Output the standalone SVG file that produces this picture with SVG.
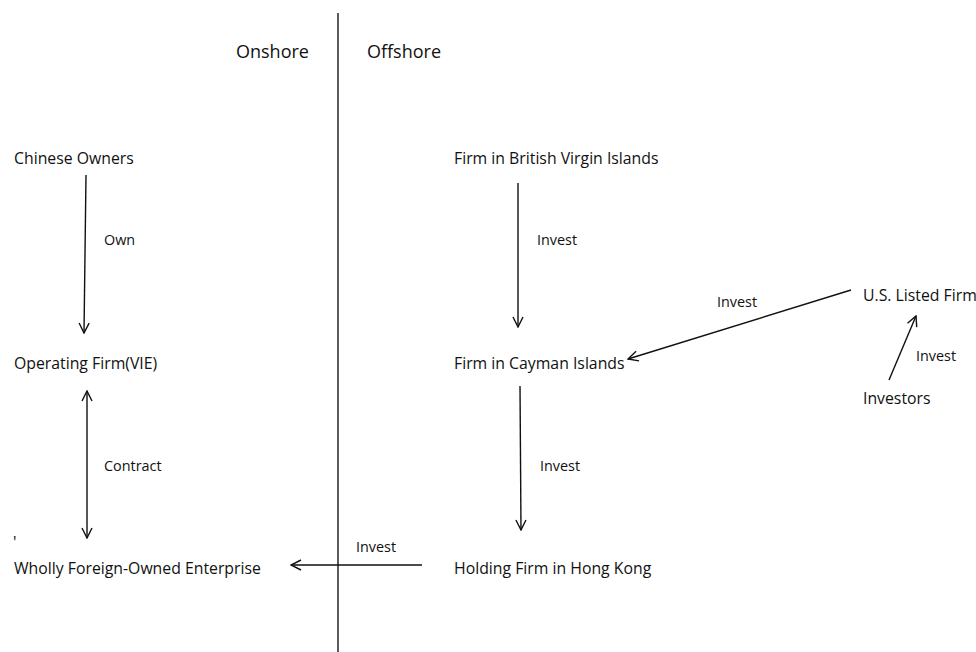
<svg xmlns="http://www.w3.org/2000/svg" width="976" height="652" viewBox="0 0 976 652">
<defs>
<style>
text{font-family:"Open Sans","Liberation Sans",sans-serif;font-size:15.8px;fill:#111;}
.h{font-size:18px;}
.lbl{font-size:14.4px;}
.c{stroke:#111;stroke-width:1.4;fill:none;}
</style>
<marker id="ah" viewBox="0 0 12 12" refX="11" refY="6" markerWidth="12" markerHeight="12" markerUnits="userSpaceOnUse" orient="auto-start-reverse">
<path d="M1,1 L11,6 L1,11" fill="none" stroke="#111" stroke-width="1.4"/>
</marker>
</defs>
<rect width="976" height="652" fill="#fff"/>
<g id="divider">
<line x1="338" y1="13" x2="338" y2="652" stroke="#333" stroke-width="1.6"/>
<text class="h" x="236" y="58">Onshore</text>
<text class="h" x="367" y="58">Offshore</text>
</g>
<g id="chinese-owners"><text x="14" y="164">Chinese Owners</text></g>
<g id="operating-firm"><text x="14" y="369">Operating Firm(VIE)</text></g>
<g id="wfoe"><text x="14" y="574">Wholly Foreign-Owned Enterprise</text><text x="13" y="548" font-size="12">'</text></g>
<g id="bvi"><text x="454" y="164">Firm in British Virgin Islands</text></g>
<g id="cayman"><text x="454" y="369">Firm in Cayman Islands</text></g>
<g id="hk"><text x="454" y="574">Holding Firm in Hong Kong</text></g>
<g id="us-listed"><text x="863" y="301">U.S. Listed Firm</text></g>
<g id="investors"><text x="863" y="404">Investors</text></g>
<g id="connectors">
<line class="c" x1="86" y1="175" x2="84" y2="333" marker-end="url(#ah)"/>
<text class="lbl" x="104" y="245">Own</text>
<line class="c" x1="87" y1="391" x2="87" y2="538" marker-start="url(#ah)" marker-end="url(#ah)"/>
<text class="lbl" x="104" y="471">Contract</text>
<line class="c" x1="422" y1="565" x2="291" y2="565" marker-end="url(#ah)"/>
<text class="lbl" x="356" y="552">Invest</text>
<line class="c" x1="518" y1="183" x2="518" y2="327" marker-end="url(#ah)"/>
<text class="lbl" x="537" y="245">Invest</text>
<line class="c" x1="520" y1="386" x2="521" y2="530" marker-end="url(#ah)"/>
<text class="lbl" x="540" y="471">Invest</text>
<line class="c" x1="851" y1="290" x2="628" y2="359" marker-end="url(#ah)"/>
<text class="lbl" x="717" y="307">Invest</text>
<line class="c" x1="889" y1="380" x2="916" y2="316" marker-end="url(#ah)"/>
<text class="lbl" x="916" y="361">Invest</text>
</g>
</svg>
